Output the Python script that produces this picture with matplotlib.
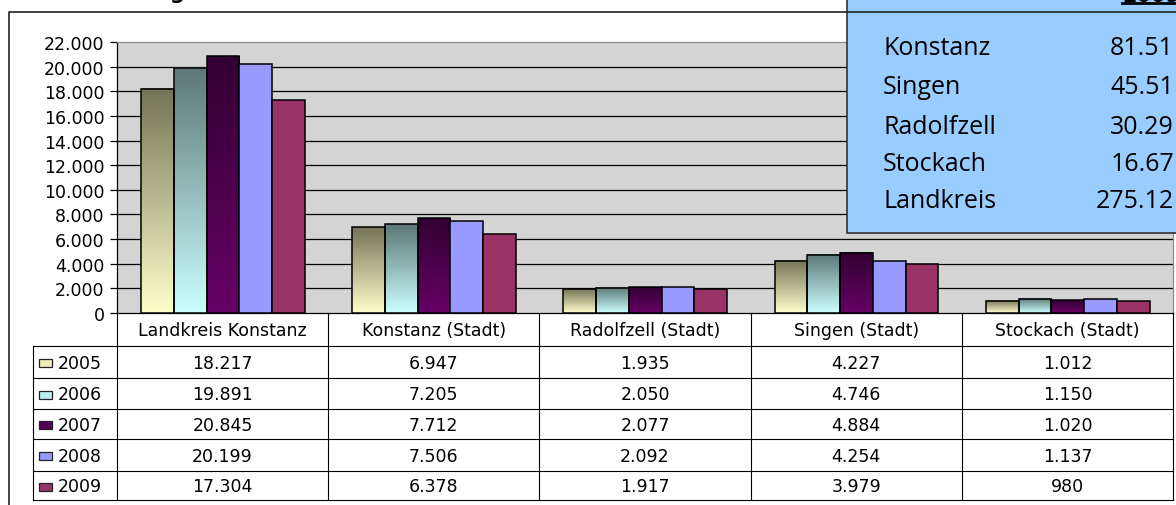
import numpy as np
import matplotlib.pyplot as plt
from matplotlib.colors import LinearSegmentedColormap
from matplotlib.patches import Rectangle
from matplotlib.ticker import FuncFormatter

# Daten
categories = ["Landkreis Konstanz", "Konstanz (Stadt)", "Radolfzell (Stadt)",
              "Singen (Stadt)", "Stockach (Stadt)"]
years = ["2005", "2006", "2007", "2008", "2009"]
v2005 = [18217, 6947, 1935, 4227, 1012]
v2006 = [19891, 7205, 2050, 4746, 1150]
v2007 = [20845, 7712, 2077, 4884, 1020]
v2008 = [20199, 7506, 2092, 4254, 1137]
v2009 = [17304, 6378, 1917, 3979, 980]
series = [v2005, v2006, v2007, v2008, v2009]

box_names = ["Konstanz", "Singen", "Radolfzell", "Stockach", "Landkreis"]
box_values = ["81.51", "45.51", "30.29", "16.67", "275.12"]

# Farben: (unten, oben) fuer Verlauf, sonst einfarbig
bar_colors = [("#FFFFCC", "#747457"), ("#CCFFFF", "#5C7777"), ("#660066", "#330033"),
              "#9999FF", "#993366"]
key_colors = ["#EEEEBB", "#BBEEEE", "#550055", "#9999FF", "#993366"]


def fmt(v):
    return f"{int(v):,}".replace(",", ".")


W, H = 1176, 506
fig = plt.figure(figsize=(W / 100, H / 100), dpi=100)
plt.rcParams['font.family'] = 'DejaVu Sans'

# Diagrammflaeche (Pixel-Layout)
pl, pr, pt, pb = 117, 1173, 43, 314
ax = fig.add_axes([pl / W, 1 - pb / H, (pr - pl) / W, (pb - pt) / H])
ax.set_facecolor("#D4D4D4")

ncat = len(categories)
x = np.arange(ncat)
bw = 0.155
off0 = 0.114

for i, (vals, col) in enumerate(zip(series, bar_colors)):
    for j, v in enumerate(vals):
        x0 = j + off0 + i * bw
        if isinstance(col, tuple):
            cmap = LinearSegmentedColormap.from_list("g", [col[0], col[1]])
            grad = np.linspace(0, 1, 256).reshape(-1, 1)
            ax.imshow(grad, cmap=cmap, extent=[x0, x0 + bw, 0, v], aspect='auto',
                      origin='lower', zorder=3)
            ax.bar(x0, v, width=bw, align='edge', fill=False, edgecolor='black',
                   linewidth=1.1, zorder=4)
        else:
            ax.bar(x0, v, width=bw, align='edge', color=col, edgecolor='black',
                   linewidth=1.1, zorder=4)

ax.set_xlim(0, ncat)
ax.set_ylim(0, 22000)
yt = np.arange(0, 22001, 2000)
ax.set_yticks(yt)
for t in yt[1:-1]:
    ax.axhline(t, color='black', linewidth=0.9, zorder=1)
ax.yaxis.set_major_formatter(FuncFormatter(lambda v, p: fmt(v)))
ax.tick_params(axis='y', direction='out', length=5, width=0.9, labelsize=12.5, pad=4)
ax.set_xticks([])
ax.spines['top'].set_color('#8C8C8C')
ax.spines['right'].set_color('#8C8C8C')
ax.spines['left'].set_color('black')
ax.spines['bottom'].set_color('black')
for s in ax.spines.values():
    s.set_linewidth(0.9)

# Ueberlagerung in Pixelkoordinaten (Tabelle, Rahmen, Kasten)
ov = fig.add_axes([0, 0, 1, 1], zorder=5)
ov.set_xlim(0, W)
ov.set_ylim(H, 0)
ov.axis('off')
ov.patch.set_alpha(0)

# Rahmen
ov.plot([9, 9, W + 5], [H + 5, 13, 13], color='#222222', linewidth=1.2, clip_on=False)
ov.text(177, -1, "g", fontsize=15, fontweight='bold', ha='center', va='baseline')

# Datentabelle
col_w = (pr - pl) / ncat
row_y = [347, 379, 410, 440, 472, 501]
tl = 33
lw = 0.8
for k in range(ncat + 1):
    xx = pl + k * col_w
    ov.plot([xx, xx], [pb, row_y[-1]], color='black', linewidth=lw)
ov.plot([tl, tl], [row_y[0], row_y[-1]], color='black', linewidth=lw)
for yy in row_y:
    ov.plot([tl, pr], [yy, yy], color='black', linewidth=lw)

for j, c in enumerate(categories):
    ov.text(pl + (j + 0.5) * col_w, (pb + row_y[0]) / 2 + 1, c, fontsize=12.5,
            ha='center', va='center')

for i, (yr, vals) in enumerate(zip(years, series)):
    cy = (row_y[i] + row_y[i + 1]) / 2 + 1
    ov.add_patch(Rectangle((39, cy - 4), 13, 8, facecolor=key_colors[i],
                           edgecolor='#222222', linewidth=0.9))
    ov.text(58, cy, yr, fontsize=12.5, ha='left', va='center')
    for j, v in enumerate(vals):
        ov.text(pl + (j + 0.5) * col_w, cy, fmt(v), fontsize=12.5,
                ha='center', va='center')

# Infokasten
ov.add_patch(Rectangle((847, -20), 400, 254, facecolor='#99CCFF',
                       edgecolor='#333333', linewidth=1.2, clip_on=False))
ov.text(1122, 1.5, "2009", fontsize=15, fontweight='bold', ha='left', va='baseline')
ov.plot([1122, W + 5], [4, 4], color='black', linewidth=2.0, clip_on=False)
box_y = [48, 87, 127, 164, 202]
for name, val, yy in zip(box_names, box_values, box_y):
    ov.text(883, yy, name, fontsize=18, family='Open Sans', ha='left', va='center')
    ov.text(1174, yy, val, fontsize=18, family='Open Sans', ha='right', va='center')

fig.savefig("out.png", dpi=100)
